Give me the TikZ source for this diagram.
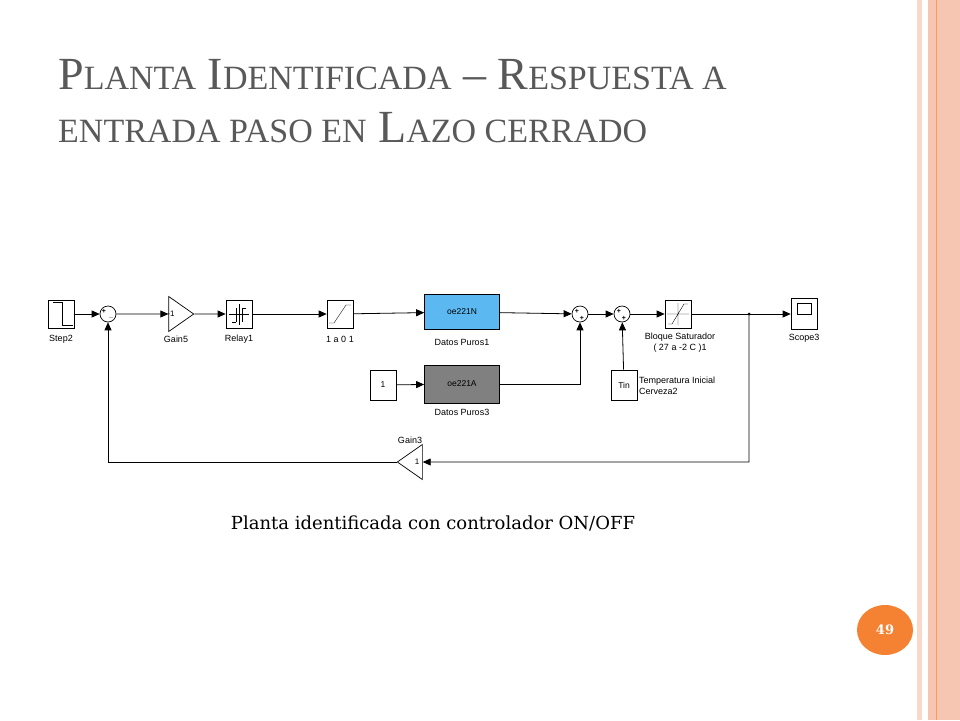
\documentclass[tikz,border=0pt]{standalone}
\usepackage{fontspec}
\setsansfont{Liberation Sans}
\newfontfamily\ttlfont{Liberation Serif}
\newfontfamily\capfont{DejaVu Serif}
\usetikzlibrary{arrows.meta,shapes.geometric}
\definecolor{ttl}{HTML}{595959}
\definecolor{pk}{HTML}{F7C6B2}
\definecolor{org}{HTML}{F58232}
\definecolor{blu}{HTML}{5BB8F0}
\newcommand{\mysc}[1]{{\fontsize{34}{40}\selectfont\uppercase{#1}}}
\begin{document}
\begin{tikzpicture}[x=1pt,y=-1pt,
 blk/.style={draw,line width=0.7pt,minimum width=26pt,minimum height=28pt,inner sep=0pt,font=\sffamily\fontsize{8.5}{10}\selectfont},
 sumn/.style={draw,line width=0.7pt,circle,minimum size=16pt,inner sep=0pt},
 gn/.style={draw,line width=0.7pt,isosceles triangle,isosceles triangle apex angle=70,minimum height=25pt,inner sep=0pt,font=\sffamily\fontsize{8}{9}\selectfont},
 lab/.style={font=\sffamily\fontsize{9}{11}\selectfont,inner sep=0pt},
 sg/.style={font=\sffamily\bfseries\fontsize{7}{7}\selectfont,inner sep=0pt},
 w/.style={-{Triangle[length=8pt,width=7pt]},line width=0.8pt}]
\useasboundingbox (0,0) rectangle (960,720);
\fill[white] (0,0) rectangle (960,720);
\fill[pk!70] (917,0) rectangle (922,720);
\fill[pk] (928,0) rectangle (960,720);
\draw[org!80,line width=0.8pt] (936,0) -- (936,720);
\node[anchor=west,text=ttl,font=\ttlfont\fontsize{46}{53}\selectfont,align=left,inner sep=0pt] (title) at (58,101)
 {P\mysc{lanta} I\mysc{dentificada} \textendash{} R\mysc{espuesta a}\\ \mysc{entrada paso en} L\mysc{azo cerrado}};
\node[blk] (step) at (61,314) {};
\draw (53,302) -- (62,302) -- (62,325) -- (73,325);
\node[lab] at (61,339) {Step2};
\node[sumn] (s1) at (108,314) {};
\node[sg] at (104,311) {+}; \node[sg] at (111,318) {\_};
\node[gn] (g5) at (176,314) {\hspace*{-10pt}-1};
\node[lab] at (176,339) {Gain5};
\node[blk] (relay) at (239,314) {};
\draw (229,314) -- (249,314) (239,304) -- (239,325) (236,322) -- (236,308) (242,322) -- (242,308) (232,322)--(236,322) (242,308)--(246,308);
\node[lab] at (239,339) {Relay1};
\node[blk] (sat1) at (340,314) {};
\draw (329,323) -- (334,323) -- (346,305) -- (351,305);
\node[lab] at (340,339) {1 a 0 1};
\node[blk,fill=blu,minimum width=75pt,minimum height=35pt] (dp1) at (462,312) {oe221N};
\node[lab] at (462,342) {Datos Puros1};
\node[blk,minimum height=30pt] (one) at (383,385) {1};
\node[blk,fill=gray,minimum width=75pt,minimum height=38pt] (dp3) at (462,384) {oe221A};
\node[lab] at (462,412) {Datos Puros3};
\node[sumn] (s2) at (580,314) {};
\node[sg] at (577,311) {+}; \node[sg] at (582,318) {+};
\node[sumn] (s3) at (622,314) {};
\node[sg] at (619,311) {+}; \node[sg] at (624,318) {+};
\node[blk] (sat2) at (678,314) {};
\draw (667,314) -- (689,314) (678,303) -- (678,325) (668,324) -- (672,324) -- (684,304) -- (688,304);
\node[lab,align=center] at (680,343) {Bloque Saturador\\( 27 a -2 C )1};
\node[blk,minimum height=30pt] (tin) at (624,385) {Tin};
\node[lab,anchor=west,align=left] at (639,386) {Temperatura Inicial\\Cerveza2};
\coordinate (br) at (749,314);
\fill (br) circle (1.5pt);
\node[blk,minimum height=31pt] (scope) at (804,314) {};
\draw (797,303) rectangle (811,314);
\node[lab] at (804,338) {Scope3};
\node[gn,shape border rotate=180] (g3) at (413,462) {\hspace*{8pt}1};
\node[lab] at (410,440) {Gain3};
\coordinate (c1) at (749,462);
\draw[w] (step) -- (s1);
\draw[w] (s1) -- (g5);
\draw[w] (g5) -- (relay);
\draw[w] (relay) -- (sat1);
\draw[w] (sat1) -- (dp1);
\draw[w] (one) -- (dp3);
\draw[w] (dp1) -- (s2);
\draw[w] (dp3.east) -| (s2.south);
\draw[w] (s2) -- (s3);
\draw[w] (tin) -- (s3);
\draw[w] (s3) -- (sat2);
\draw[line width=0.8pt] (sat2) -- (br);
\draw[w] (br) -- (scope);
\draw[w] (br) -- (c1) -- (g3);
\draw[w] (g3) -| (s1.south);
\node[font=\capfont\fontsize{18}{21}\selectfont,inner sep=0pt] (cap) at (433,523) {Planta identificada con controlador ON/OFF};
\node[fill=org,ellipse,minimum width=56pt,minimum height=50pt,text=white,font=\capfont\bfseries\fontsize{13}{16}\selectfont] (pg) at (885,630) {49};
\end{tikzpicture}
\end{document}
